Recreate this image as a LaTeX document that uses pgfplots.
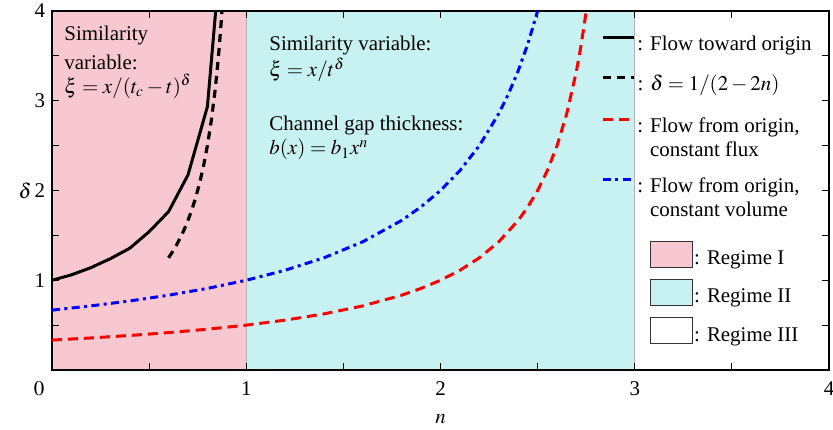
\documentclass[border=0pt]{standalone}
\usepackage{mathptmx}
\usepackage{fontspec}
\setmainfont{Liberation Serif}
\usepackage{pgfplots}
\pgfplotsset{compat=1.18}
\definecolor{regI}{RGB}{248,200,208}
\definecolor{regII}{RGB}{200,242,242}
\pgfplotsset{
  lineimg/.style={legend image code/.code={\draw[##1] (0bp,3bp) -- (15.5bp,3bp);}},
  boximg/.style={legend image code/.code={\draw[##1,draw=black!80,line width=0.5bp] (0bp,-4bp) rectangle (21bp,9bp);}},
  common/.style={scale only axis, width=388.5bp, height=179.5bp,
    xmin=0, xmax=4, ymin=0, ymax=4},
  legat/.style={common, hide axis, lineimg, legend cell align=left,
    legend style={at={(axis cs:2.826,#1)}, anchor=north west, draw=none, fill=none,
    inner sep=0pt, nodes={inner sep=1bp}, font=\fontsize{10.5}{12}\selectfont}},
}
\newcommand{\lt}[1]{\begin{tabular}[t]{@{}l@{}}#1\end{tabular}}
\begin{document}
\begin{tikzpicture}[font=\fontsize{10.5}{12}\selectfont]
% regimes (background)
\begin{axis}[common, hide axis, boximg,
  legend cell align=left,
  legend style={at={(axis cs:3.075,1.445)}, anchor=north west, draw=none, fill=none,
    inner sep=0pt, row sep=4.9bp, nodes={inner sep=0.75bp},
    font=\fontsize{10.5}{12}\selectfont},
]
\addplot[fill=regI, draw=gray!60, line width=0.4bp] coordinates {(0,0) (1,0) (1,4) (0,4)} -- cycle;
\addlegendentry{: Regime I}
\addplot[fill=regII, draw=gray!60, line width=0.4bp] coordinates {(1,0) (3,0) (3,4) (1,4)} -- cycle;
\addlegendentry{: Regime II}
\addlegendimage{fill=white}
\addlegendentry{: Regime III}
\end{axis}
% main axis
\begin{axis}[common, clip mode=individual,
  xtick={0,1,2,3,4}, xticklabels={,1,2,3,4},
  ytick={0,1,2,3,4}, yticklabels={,1,2,3,4},
  minor tick num=1,
  tick align=inside,
  major tick length=3.5bp, minor tick length=3.5bp,
  tick style={line width=0.5bp, black},
  axis line style={line width=0.75bp},
  xticklabel style={yshift=-2.2bp},
  xlabel={$n$}, ylabel={$\delta$},
  xlabel style={at={(axis description cs:0.5,0)}, anchor=center, yshift=-24.75bp},
  ylabel style={rotate=-90, at={(axis description cs:0,0.5)}, anchor=center, xshift=-13.5bp},
]
\addplot[black, line width=1.5bp] coordinates {
(0,1.0) (0.1,1.06) (0.2,1.14) (0.3,1.24) (0.4,1.356) (0.5,1.541) (0.6,1.764) (0.7,2.173) (0.8,2.934) (0.9,5.43)};
\addplot[black, line width=1.6bp, dash pattern=on 4bp off 3bp] coordinates {
(0.6,1.25) (0.62,1.3158) (0.64,1.3889) (0.66,1.4706) (0.68,1.5625) (0.70,1.6667) (0.72,1.7857) (0.74,1.9231) (0.76,2.0833) (0.78,2.2727) (0.80,2.5) (0.82,2.7778) (0.84,3.125) (0.85,3.3333) (0.86,3.5714) (0.87,3.8462) (0.875,4.0)};
\addplot[red, line width=1.5bp, dash pattern=on 5bp off 3bp] coordinates {
(0,0.3333) (0.2,0.3571) (0.4,0.3846) (0.6,0.4167) (0.8,0.4545) (1.0,0.5) (1.2,0.5556) (1.4,0.625) (1.6,0.7143) (1.8,0.8333) (1.9,0.9091) (2.0,1.0) (2.1,1.1111) (2.2,1.25) (2.3,1.4286) (2.4,1.6667) (2.45,1.8182) (2.5,2.0) (2.55,2.2222) (2.6,2.5) (2.65,2.8571) (2.7,3.3333) (2.72,3.5714) (2.74,3.8462) (2.75,4.0)};
\addplot[blue, line width=1.5bp, dash pattern=on 4bp off 2.2bp on 1.5bp off 2.2bp] coordinates {
(0,0.6667) (0.2,0.7143) (0.4,0.7692) (0.6,0.8333) (0.8,0.9091) (1.0,1.0) (1.2,1.1111) (1.4,1.25) (1.6,1.4286) (1.8,1.6667) (1.9,1.8182) (2.0,2.0) (2.1,2.2222) (2.2,2.5) (2.3,2.8571) (2.35,3.0769) (2.4,3.3333) (2.45,3.6364) (2.5,4.0)};
% annotations
\node[anchor=base west, inner sep=0] at (axis cs:0.062,3.669) {Similarity};
\node[anchor=base west, inner sep=0] at (axis cs:0.062,3.350) {variable:};
\node[anchor=base west, inner sep=0] at (axis cs:0.062,3.086) {$\xi=x/(t_c-t)^{\delta}$};
\node[anchor=base west, inner sep=0] at (axis cs:1.117,3.565) {Similarity variable:};
\node[anchor=base west, inner sep=0] at (axis cs:1.117,3.268) {$\xi=x/t^{\delta}$};
\node[anchor=base west, inner sep=0] at (axis cs:1.117,2.674) {Channel gap thickness:};
\node[anchor=base west, inner sep=0] at (axis cs:1.117,2.396) {$b(x)=b_1x^n$};
\node[anchor=center, inner sep=0] at (axis cs:0,0) [xshift=-6.5bp, yshift=-9.25bp] {$0$};
\end{axis}
% legend entries, one hidden axis each
\begin{axis}[legat=3.778]
\addlegendimage{black, line width=1.5bp}
\addlegendentry{\lt{: Flow toward origin}}
\end{axis}
\begin{axis}[legat=3.33]
\addlegendimage{black, line width=1.6bp, dash pattern=on 4bp off 3bp}
\addlegendentry{\lt{: $\delta=1/(2-2n)$}}
\end{axis}
\begin{axis}[legat=2.864]
\addlegendimage{red, line width=1.5bp, dash pattern=on 5bp off 3bp}
\addlegendentry{\lt{: Flow from origin,\\\phantom{: }constant flux}}
\end{axis}
\begin{axis}[legat=2.195]
\addlegendimage{blue, line width=1.5bp, dash pattern=on 4bp off 2.2bp on 1.5bp off 2.2bp}
\addlegendentry{\lt{: Flow from origin,\\\phantom{: }constant volume}}
\end{axis}
\pgfresetboundingbox
\path[use as bounding box] ([xshift=-26bp,yshift=-30bp]current axis.south west) rectangle ([xshift=2bp,yshift=5.5bp]current axis.north east);
\end{tikzpicture}
\end{document}
